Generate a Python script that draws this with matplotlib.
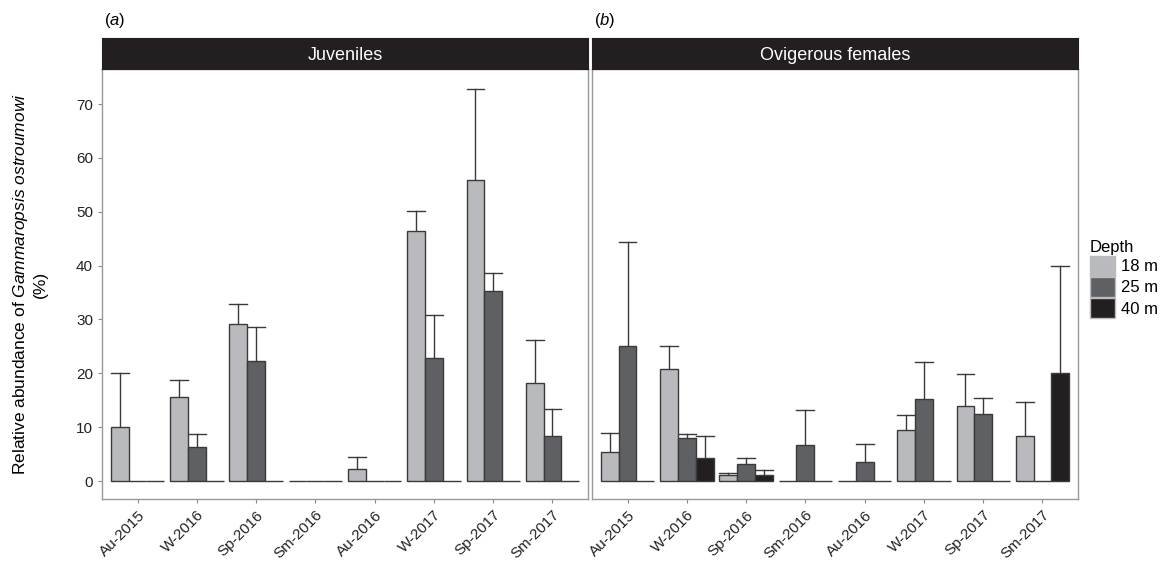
import matplotlib.pyplot as plt
import numpy as np
from matplotlib.patches import Patch

plt.rcParams['font.family'] = ['Liberation Sans', 'DejaVu Sans']
plt.rcParams['mathtext.fontset'] = 'custom'
plt.rcParams['mathtext.rm'] = 'Liberation Sans'
plt.rcParams['mathtext.it'] = 'Liberation Sans:italic'

seasons = ['Au-2015', 'W-2016', 'Sp-2016', 'Sm-2016', 'Au-2016', 'W-2017', 'Sp-2017', 'Sm-2017']
depths = ['18 m', '25 m', '40 m']
colors = ['#b9babd', '#5f6063', '#231f20']

# juveniles: mean and upper error per depth
juv_18 = [10.0, 15.6, 29.1, 0, 2.2, 46.5, 55.9, 18.2]
juv_18_err = [20.1, 18.8, 32.9, 0, 4.5, 50.1, 72.8, 26.1]
juv_25 = [0, 6.3, 22.2, 0, 0, 22.8, 35.2, 8.3]
juv_25_err = [0, 8.8, 28.6, 0, 0, 30.9, 38.6, 13.3]
juv_40 = [0, 0, 0, 0, 0, 0, 0, 0]
juv_40_err = [0, 0, 0, 0, 0, 0, 0, 0]

# ovigerous females
ovi_18 = [5.4, 20.8, 1.2, 0, 0, 9.5, 14.0, 8.3]
ovi_18_err = [9.0, 25.1, 1.5, 0, 0, 12.2, 19.9, 14.7]
ovi_25 = [25.0, 8.0, 3.1, 6.7, 3.5, 15.2, 12.5, 0]
ovi_25_err = [44.3, 8.7, 4.3, 13.2, 6.8, 22.1, 15.5, 0]
ovi_40 = [0, 4.3, 1.05, 0, 0, 0, 0, 20.1]
ovi_40_err = [0, 8.4, 2.1, 0, 0, 0, 0, 39.9]

panels = [
    ('Juveniles', 'a', [juv_18, juv_25, juv_40], [juv_18_err, juv_25_err, juv_40_err]),
    ('Ovigerous females', 'b', [ovi_18, ovi_25, ovi_40], [ovi_18_err, ovi_25_err, ovi_40_err]),
]

fig = plt.figure(figsize=(11.7, 5.69), dpi=100)
lefts = [102 / 1170, 592 / 1170]
w = 486 / 1170
bottom = 1 - 499 / 569
h = (499 - 69) / 569
strip_h = 31 / 569

x = np.arange(1, len(seasons) + 1)
bw = 0.3
edge = '#3a3a3a'

for i, (title, tag, vals, errs) in enumerate(panels):
    ax = fig.add_axes([lefts[i], bottom, w, h])
    for j in range(3):
        xs = x + (j - 1) * bw
        ax.bar(xs, vals[j], width=bw, color=colors[j], edgecolor=edge, linewidth=1.0, zorder=2)
        # upper error bars only
        for xx, v, e in zip(xs, vals[j], errs[j]):
            if e > v:
                ax.plot([xx, xx], [v, e], color=edge, lw=1.0, zorder=1)
                ax.plot([xx - bw / 2, xx + bw / 2], [e, e], color=edge, lw=1.0, zorder=1)
    ax.set_xlim(0.4, 8.6)
    ax.set_ylim(-3.34, 76.5)
    ax.set_xticks(x)
    ax.set_xticklabels(seasons, rotation=45, ha='right', rotation_mode='anchor', fontsize=11, color='#222222')
    ax.set_yticks(range(0, 80, 10))
    if i == 0:
        ax.set_yticklabels([str(v) for v in range(0, 80, 10)], fontsize=11, color='#222222')
    else:
        ax.tick_params(axis='y', left=False, labelleft=False)
    ax.tick_params(color='#888888', length=3, width=0.8)
    for s in ax.spines.values():
        s.set_color('#999999')
        s.set_linewidth(1.0)

    # facet strip
    sax = fig.add_axes([lefts[i], bottom + h, w, strip_h])
    sax.set_facecolor('#231f20')
    sax.set_xticks([])
    sax.set_yticks([])
    for s in sax.spines.values():
        s.set_color('#231f20')
    sax.text(0.5, 0.45, title, color='white', fontsize=13, ha='center', va='center', transform=sax.transAxes)

    fig.text(lefts[i] + 0.002, 1 - 20 / 569, '(' + r'$\it{' + tag + '}$' + ')', fontsize=12, ha='left', va='center')

fig.text(0.025, 0.5, 'Relative abundance of $\\it{Gammaropsis\\ ostroumowi}$\n(%)', rotation=90,
         fontsize=12.5, ha='center', va='center', multialignment='center')

handles = [Patch(facecolor=c, edgecolor='#bbbbbb', label=d) for c, d in zip(colors, depths)]
fig.legend(handles=handles, title='Depth', loc='upper left', bbox_to_anchor=(1083 / 1170, 1 - 233 / 569),
           frameon=False, fontsize=12, title_fontsize=12, handlelength=1.5, handleheight=1.5,
           handletextpad=0.4, labelspacing=0.05, borderaxespad=0, alignment='left')

fig.savefig('out.png', dpi=100)
